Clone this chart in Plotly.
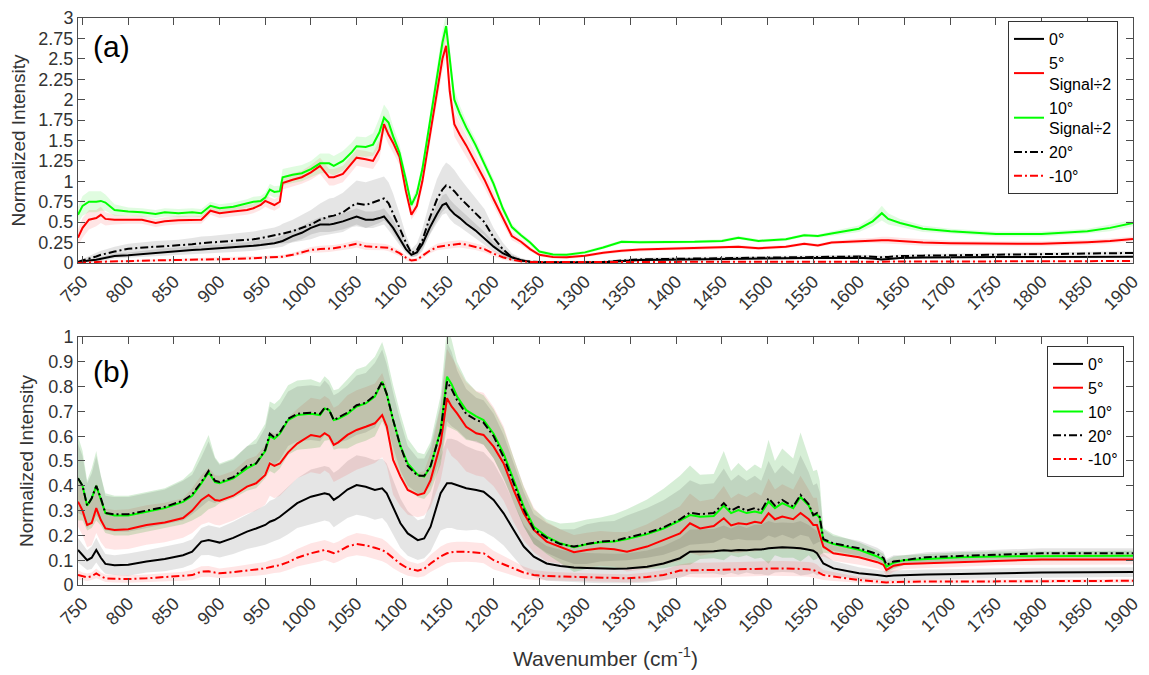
import plotly.graph_objects as go

# ---------------- Panel (a) ----------------
wn_a = [745, 750, 757, 765, 770, 775, 785,
        800, 815, 830, 840, 855, 870, 880, 890, 900, 915, 930, 937, 945, 950, 955, 960, 966, 969,
        980, 990, 1000, 1010, 1020, 1025, 1035, 1045, 1050, 1060, 1068, 1075, 1080, 1085, 1090,
        1097, 1104, 1110, 1116, 1122, 1130, 1138, 1144, 1148, 1152, 1157, 1163, 1170, 1180, 1190, 1200,
        1210, 1220, 1230, 1240, 1250, 1265, 1280, 1300, 1320, 1340, 1360, 1390, 1420, 1450, 1468, 1490,
        1520, 1540, 1555, 1570, 1600, 1615, 1625, 1632, 1645, 1670, 1700, 1750, 1800, 1850, 1875, 1900]

a_0 = [0.01, 0.02, 0.03, 0.04, 0.05, 0.06, 0.085,
       0.095, 0.11, 0.125, 0.135, 0.148, 0.16, 0.165, 0.172, 0.175, 0.19, 0.20, 0.21, 0.22, 0.227, 0.235, 0.243, 0.26, 0.27,
       0.33, 0.37, 0.43, 0.47, 0.47, 0.48, 0.51, 0.55, 0.57, 0.53, 0.53, 0.55, 0.57, 0.50, 0.43,
       0.30, 0.17, 0.10, 0.13, 0.23, 0.43, 0.60, 0.71, 0.73, 0.66, 0.60, 0.55, 0.48, 0.40, 0.30, 0.20,
       0.12, 0.07, 0.035, 0.016, 0.008, 0.005, 0.005, 0.005, 0.008, 0.025, 0.036, 0.04, 0.045, 0.05, 0.055, 0.056,
       0.058, 0.06, 0.06, 0.062, 0.064, 0.055, 0.044, 0.05, 0.06, 0.068, 0.072, 0.074, 0.075, 0.075, 0.075, 0.076]
a_5 = [0.31, 0.43, 0.53, 0.55, 0.59, 0.54, 0.53,
       0.53, 0.53, 0.49, 0.51, 0.525, 0.53, 0.53, 0.64, 0.61, 0.63, 0.65, 0.67, 0.71, 0.76, 0.73, 0.71, 0.75, 0.98,
       1.02, 1.05, 1.11, 1.19, 1.05, 1.05, 1.09, 1.22, 1.29, 1.27, 1.25, 1.39, 1.70, 1.57, 1.47,
       1.30, 0.88, 0.59, 0.70, 1.00, 1.55, 2.10, 2.50, 2.66, 2.10, 1.70, 1.57, 1.44, 1.23, 1.02, 0.78,
       0.55, 0.33, 0.26, 0.17, 0.10, 0.075, 0.07, 0.09, 0.125, 0.15, 0.165, 0.175, 0.18, 0.19, 0.20, 0.18,
       0.20, 0.235, 0.215, 0.25, 0.27, 0.275, 0.28, 0.28, 0.27, 0.25, 0.243, 0.235, 0.235, 0.255, 0.27, 0.295]
a_10 = [0.59, 0.70, 0.75, 0.75, 0.76, 0.74, 0.65,
        0.63, 0.62, 0.60, 0.62, 0.61, 0.62, 0.61, 0.70, 0.67, 0.69, 0.73, 0.75, 0.76, 0.80, 0.90, 0.87, 0.88, 1.05,
        1.08, 1.10, 1.15, 1.22, 1.22, 1.19, 1.25, 1.36, 1.43, 1.42, 1.45, 1.60, 1.78, 1.72, 1.55,
        1.35, 1.02, 0.71, 0.85, 1.15, 1.71, 2.30, 2.70, 2.90, 2.50, 2.00, 1.83, 1.66, 1.45, 1.22, 0.97,
        0.67, 0.44, 0.34, 0.25, 0.14, 0.105, 0.10, 0.13, 0.19, 0.26, 0.255, 0.255, 0.26, 0.27, 0.31, 0.27,
        0.29, 0.34, 0.33, 0.36, 0.42, 0.51, 0.61, 0.54, 0.49, 0.42, 0.39, 0.355, 0.355, 0.39, 0.43, 0.49]
a_20 = [0.015, 0.03, 0.06, 0.08, 0.10, 0.115, 0.14,
        0.175, 0.19, 0.20, 0.205, 0.215, 0.23, 0.243, 0.25, 0.255, 0.27, 0.285, 0.29, 0.305, 0.315, 0.325, 0.335, 0.35, 0.36,
        0.39, 0.43, 0.47, 0.53, 0.57, 0.58, 0.62, 0.70, 0.73, 0.71, 0.74, 0.77, 0.79, 0.73, 0.61,
        0.43, 0.25, 0.12, 0.16, 0.28, 0.55, 0.78, 0.90, 0.95, 0.93, 0.88, 0.80, 0.72, 0.61, 0.50, 0.31,
        0.17, 0.07, 0.03, 0.015, 0.01, 0.008, 0.008, 0.008, 0.012, 0.03, 0.044, 0.05, 0.055, 0.06, 0.065, 0.07,
        0.074, 0.076, 0.078, 0.078, 0.08, 0.078, 0.07, 0.075, 0.085, 0.09, 0.095, 0.105, 0.115, 0.12, 0.122, 0.123]
a_m10 = [0.0, 0.005, 0.01, 0.012, 0.015, 0.017, 0.02,
         0.024, 0.028, 0.032, 0.034, 0.036, 0.04, 0.042, 0.044, 0.045, 0.05, 0.055, 0.06, 0.065, 0.068, 0.07, 0.072, 0.075, 0.078,
         0.10, 0.13, 0.16, 0.17, 0.175, 0.18, 0.20, 0.22, 0.235, 0.205, 0.20, 0.195, 0.195, 0.185, 0.16,
         0.12, 0.065, 0.03, 0.04, 0.09, 0.15, 0.195, 0.21, 0.215, 0.22, 0.23, 0.235, 0.225, 0.20, 0.17, 0.115,
         0.07, 0.04, 0.02, 0.013, 0.012, 0.012, 0.012, 0.012, 0.012, 0.013, 0.014, 0.015, 0.015, 0.016, 0.016, 0.016,
         0.016, 0.016, 0.016, 0.016, 0.016, 0.016, 0.015, 0.016, 0.017, 0.018, 0.019, 0.02, 0.021, 0.022, 0.023, 0.024]

# standard deviations (shaded bands), panel (a)
sd_a_0 = [0.01, 0.015, 0.02, 0.02, 0.025, 0.03, 0.03,
          0.035, 0.04, 0.04, 0.045, 0.045, 0.05, 0.05, 0.05, 0.05, 0.055, 0.055, 0.06, 0.06, 0.06, 0.06, 0.06, 0.065, 0.07,
          0.07, 0.08, 0.08, 0.09, 0.09, 0.09, 0.10, 0.10, 0.10, 0.10, 0.10, 0.10, 0.10, 0.10, 0.10,
          0.08, 0.05, 0.03, 0.04, 0.06, 0.09, 0.11, 0.12, 0.12, 0.12, 0.12, 0.11, 0.10, 0.09, 0.08, 0.06,
          0.05, 0.03, 0.02, 0.01, 0.01, 0.01, 0.01, 0.01, 0.01, 0.012, 0.015, 0.015, 0.015, 0.015, 0.015, 0.015,
          0.015, 0.015, 0.015, 0.015, 0.015, 0.015, 0.015, 0.015, 0.015, 0.015, 0.015, 0.015, 0.015, 0.015, 0.015, 0.015]
sd_a_5 = [0.10, 0.12, 0.12, 0.10, 0.10, 0.08, 0.06,
          0.05, 0.05, 0.05, 0.05, 0.05, 0.05, 0.05, 0.05, 0.06, 0.06, 0.06, 0.06, 0.06, 0.07, 0.07, 0.07, 0.07, 0.08,
          0.08, 0.08, 0.09, 0.10, 0.10, 0.10, 0.10, 0.10, 0.10, 0.10, 0.10, 0.12, 0.12, 0.12, 0.12,
          0.10, 0.08, 0.06, 0.07, 0.09, 0.12, 0.14, 0.15, 0.15, 0.15, 0.15, 0.15, 0.14, 0.12, 0.10, 0.08,
          0.07, 0.05, 0.04, 0.03, 0.02, 0.02, 0.02, 0.02, 0.02, 0.02, 0.02, 0.02, 0.02, 0.02, 0.02, 0.02,
          0.02, 0.02, 0.02, 0.02, 0.03, 0.03, 0.04, 0.04, 0.04, 0.04, 0.03, 0.03, 0.03, 0.03, 0.03, 0.03]
sd_a_10 = [0.10, 0.12, 0.13, 0.13, 0.12, 0.10, 0.07,
           0.05, 0.05, 0.05, 0.05, 0.05, 0.05, 0.05, 0.05, 0.05, 0.05, 0.05, 0.06, 0.06, 0.06, 0.07, 0.07, 0.07, 0.10,
           0.10, 0.10, 0.10, 0.12, 0.12, 0.12, 0.12, 0.12, 0.12, 0.12, 0.14, 0.18, 0.16, 0.14, 0.12,
           0.10, 0.08, 0.06, 0.07, 0.08, 0.10, 0.12, 0.14, 0.15, 0.14, 0.12, 0.10, 0.08, 0.07, 0.06, 0.06,
           0.05, 0.04, 0.03, 0.03, 0.02, 0.02, 0.02, 0.02, 0.02, 0.02, 0.02, 0.02, 0.02, 0.02, 0.02, 0.02,
           0.02, 0.02, 0.02, 0.03, 0.04, 0.06, 0.09, 0.07, 0.05, 0.04, 0.03, 0.03, 0.03, 0.03, 0.04, 0.04]
sd_a_20 = [0.01, 0.02, 0.03, 0.04, 0.05, 0.05, 0.06,
           0.06, 0.065, 0.07, 0.07, 0.07, 0.075, 0.08, 0.08, 0.085, 0.09, 0.09, 0.095, 0.10, 0.10, 0.10, 0.10, 0.11, 0.12,
           0.14, 0.16, 0.18, 0.20, 0.22, 0.22, 0.24, 0.26, 0.28, 0.28, 0.28, 0.28, 0.27, 0.26, 0.24,
           0.18, 0.10, 0.05, 0.08, 0.14, 0.20, 0.25, 0.27, 0.28, 0.27, 0.26, 0.24, 0.22, 0.19, 0.16, 0.12,
           0.08, 0.05, 0.03, 0.02, 0.015, 0.015, 0.015, 0.015, 0.015, 0.02, 0.02, 0.02, 0.02, 0.02, 0.02, 0.02,
           0.02, 0.02, 0.02, 0.02, 0.02, 0.02, 0.02, 0.02, 0.02, 0.02, 0.02, 0.02, 0.02, 0.02, 0.02, 0.02]
sd_a_m10 = [0.005, 0.008, 0.01, 0.01, 0.01, 0.012, 0.012,
            0.012, 0.013, 0.014, 0.015, 0.015, 0.016, 0.017, 0.018, 0.018, 0.02, 0.02, 0.02, 0.02, 0.02, 0.02, 0.02, 0.02, 0.022,
            0.025, 0.03, 0.035, 0.04, 0.04, 0.04, 0.04, 0.045, 0.045, 0.045, 0.045, 0.04, 0.04, 0.04, 0.04,
            0.035, 0.03, 0.025, 0.025, 0.03, 0.035, 0.04, 0.045, 0.045, 0.045, 0.045, 0.045, 0.045, 0.04, 0.04, 0.035,
            0.03, 0.02, 0.015, 0.01, 0.008, 0.008, 0.008, 0.008, 0.008, 0.008, 0.008, 0.008, 0.008, 0.008, 0.008, 0.008,
            0.008, 0.008, 0.008, 0.008, 0.008, 0.008, 0.008, 0.008, 0.008, 0.008, 0.008, 0.008, 0.008, 0.008, 0.008, 0.008]

# ---------------- Panel (b) ----------------
wn_b = [745, 750, 755, 760, 765, 770, 775, 785,
        800, 820, 840, 860, 870, 880, 888, 895, 900, 915, 930, 940,
        950, 955, 960, 966, 975, 985, 1000, 1010, 1015, 1020, 1025, 1030, 1040, 1050, 1060, 1070, 1078,
        1083, 1090, 1098, 1106, 1117, 1124, 1131, 1142, 1149, 1154, 1160, 1170, 1181, 1189, 1200, 1211, 1222, 1233, 1244,
        1258, 1273, 1288, 1302, 1317, 1332, 1346, 1368, 1386, 1404, 1415, 1426, 1441, 1452, 1460, 1468, 1477, 1486, 1493,
        1501, 1508, 1516, 1528, 1536, 1545, 1550, 1554, 1557, 1561, 1572,
        1600, 1620, 1627, 1630, 1638, 1649, 1674, 1711, 1750, 1800, 1850, 1900]

b_0 = [0.141, 0.121, 0.10, 0.11, 0.141, 0.11, 0.085, 0.08,
       0.082, 0.095, 0.105, 0.12, 0.134, 0.175, 0.181, 0.175, 0.171, 0.19, 0.215, 0.228,
       0.242, 0.255, 0.262, 0.275, 0.30, 0.33, 0.356, 0.365, 0.37, 0.365, 0.343, 0.355, 0.385, 0.403, 0.396, 0.383, 0.39,
       0.37, 0.316, 0.249, 0.208, 0.181, 0.188, 0.235, 0.37, 0.41, 0.41, 0.403, 0.39, 0.383, 0.376, 0.343, 0.289, 0.222, 0.155, 0.114,
       0.087, 0.077, 0.071, 0.069, 0.067, 0.066, 0.067, 0.074, 0.087, 0.108, 0.134, 0.135, 0.136, 0.14, 0.138, 0.141, 0.14, 0.143, 0.143,
       0.148, 0.15, 0.152, 0.15, 0.148, 0.142, 0.138, 0.128, 0.11, 0.087, 0.067,
       0.047, 0.04, 0.036, 0.035, 0.038, 0.04, 0.042, 0.044, 0.047, 0.05, 0.051, 0.052]
b_5 = [0.336, 0.30, 0.242, 0.25, 0.31, 0.262, 0.228, 0.222,
       0.225, 0.242, 0.252, 0.27, 0.30, 0.343, 0.363, 0.343, 0.34, 0.36, 0.397, 0.41,
       0.444, 0.49, 0.48, 0.49, 0.535, 0.57, 0.605, 0.598, 0.612, 0.60, 0.565, 0.575, 0.605, 0.625, 0.638, 0.652, 0.685,
       0.64, 0.504, 0.437, 0.383, 0.363, 0.37, 0.423, 0.571, 0.753, 0.72, 0.692, 0.638, 0.612, 0.605, 0.558, 0.49, 0.383, 0.289, 0.222,
       0.175, 0.155, 0.132, 0.141, 0.148, 0.144, 0.134, 0.155, 0.181, 0.208, 0.249, 0.228, 0.238, 0.269, 0.24, 0.249, 0.245, 0.255, 0.25,
       0.289, 0.265, 0.276, 0.265, 0.29, 0.265, 0.242, 0.242, 0.20, 0.155, 0.128,
       0.112, 0.092, 0.081, 0.06, 0.078, 0.085, 0.088, 0.094, 0.10, 0.103, 0.103, 0.103]
b_10 = [0.43, 0.40, 0.32, 0.35, 0.40, 0.34, 0.29, 0.28,
        0.28, 0.295, 0.31, 0.335, 0.36, 0.41, 0.455, 0.415, 0.41, 0.43, 0.47, 0.49,
        0.54, 0.60, 0.59, 0.61, 0.665, 0.685, 0.69, 0.685, 0.712, 0.705, 0.665, 0.67, 0.69, 0.72, 0.732, 0.76, 0.82,
        0.77, 0.665, 0.56, 0.49, 0.444, 0.437, 0.477, 0.625, 0.84, 0.81, 0.76, 0.705, 0.68, 0.665, 0.61, 0.53, 0.423, 0.316, 0.235,
        0.195, 0.168, 0.152, 0.164, 0.172, 0.175, 0.185, 0.205, 0.228, 0.26, 0.282, 0.275, 0.278, 0.32, 0.29, 0.302, 0.29, 0.296, 0.29,
        0.336, 0.31, 0.33, 0.31, 0.355, 0.32, 0.28, 0.285, 0.27, 0.18, 0.165,
        0.142, 0.115, 0.10, 0.074, 0.09, 0.10, 0.105, 0.112, 0.115, 0.117, 0.118, 0.118]
b_20 = [0.43, 0.40, 0.32, 0.35, 0.40, 0.35, 0.29, 0.285,
        0.285, 0.30, 0.315, 0.34, 0.365, 0.415, 0.46, 0.42, 0.415, 0.435, 0.48, 0.49,
        0.545, 0.61, 0.595, 0.615, 0.67, 0.69, 0.695, 0.69, 0.715, 0.705, 0.665, 0.675, 0.695, 0.725, 0.735, 0.765, 0.82,
        0.77, 0.665, 0.56, 0.48, 0.44, 0.44, 0.48, 0.62, 0.82, 0.79, 0.745, 0.69, 0.665, 0.655, 0.60, 0.515, 0.41, 0.305, 0.225,
        0.19, 0.165, 0.155, 0.165, 0.175, 0.178, 0.19, 0.21, 0.232, 0.265, 0.292, 0.285, 0.29, 0.33, 0.30, 0.315, 0.30, 0.31, 0.30,
        0.35, 0.32, 0.343, 0.316, 0.363, 0.325, 0.282, 0.29, 0.275, 0.185, 0.168,
        0.148, 0.125, 0.108, 0.081, 0.095, 0.10, 0.112, 0.117, 0.122, 0.128, 0.128, 0.128]
b_m10 = [0.04, 0.035, 0.031, 0.035, 0.047, 0.035, 0.027, 0.025,
         0.024, 0.027, 0.031, 0.035, 0.04, 0.054, 0.055, 0.05, 0.047, 0.052, 0.058, 0.062,
         0.067, 0.072, 0.076, 0.08, 0.092, 0.11, 0.128, 0.135, 0.141, 0.135, 0.128, 0.135, 0.155, 0.165, 0.16, 0.15, 0.141,
         0.13, 0.108, 0.085, 0.067, 0.058, 0.065, 0.087, 0.115, 0.128, 0.132, 0.134, 0.134, 0.132, 0.128, 0.10, 0.082, 0.067, 0.05, 0.04,
         0.036, 0.034, 0.032, 0.031, 0.029, 0.028, 0.027, 0.032, 0.04, 0.058, 0.06, 0.06, 0.06, 0.062, 0.062, 0.063, 0.064, 0.065, 0.066,
         0.067, 0.067, 0.067, 0.066, 0.065, 0.063, 0.06, 0.055, 0.048, 0.04, 0.034,
         0.02, 0.014, 0.011, 0.01, 0.012, 0.013, 0.014, 0.014, 0.015, 0.016, 0.017, 0.017]

sd_b_0 = [0.05, 0.045, 0.04, 0.045, 0.05, 0.045, 0.04, 0.04,
          0.045, 0.045, 0.05, 0.05, 0.05, 0.055, 0.06, 0.06, 0.06, 0.065, 0.07, 0.075,
          0.08, 0.085, 0.085, 0.09, 0.095, 0.10, 0.11, 0.11, 0.11, 0.11, 0.11, 0.11, 0.115, 0.12, 0.12, 0.12, 0.12,
          0.12, 0.11, 0.10, 0.09, 0.08, 0.08, 0.10, 0.15, 0.18, 0.18, 0.18, 0.17, 0.16, 0.16, 0.15, 0.13, 0.11, 0.09, 0.08,
          0.07, 0.065, 0.06, 0.06, 0.06, 0.06, 0.06, 0.065, 0.07, 0.08, 0.09, 0.09, 0.09, 0.10, 0.09, 0.10, 0.09, 0.10, 0.10,
          0.11, 0.10, 0.10, 0.10, 0.11, 0.10, 0.09, 0.09, 0.07, 0.04, 0.03,
          0.025, 0.02, 0.02, 0.02, 0.02, 0.02, 0.02, 0.02, 0.02, 0.02, 0.02, 0.02]
sd_b_5 = [0.10, 0.10, 0.09, 0.09, 0.10, 0.09, 0.08, 0.08,
          0.08, 0.08, 0.08, 0.08, 0.09, 0.10, 0.11, 0.10, 0.10, 0.10, 0.11, 0.11,
          0.12, 0.13, 0.13, 0.13, 0.14, 0.14, 0.15, 0.15, 0.15, 0.15, 0.15, 0.15, 0.16, 0.16, 0.16, 0.16, 0.17,
          0.16, 0.14, 0.12, 0.10, 0.09, 0.09, 0.11, 0.15, 0.20, 0.20, 0.19, 0.18, 0.17, 0.17, 0.16, 0.15, 0.13, 0.11, 0.09,
          0.08, 0.07, 0.07, 0.07, 0.07, 0.07, 0.08, 0.09, 0.10, 0.11, 0.12, 0.11, 0.11, 0.13, 0.11, 0.12, 0.11, 0.12, 0.11,
          0.14, 0.12, 0.13, 0.12, 0.15, 0.12, 0.11, 0.11, 0.09, 0.04, 0.03,
          0.03, 0.025, 0.025, 0.025, 0.025, 0.02, 0.02, 0.02, 0.02, 0.02, 0.02, 0.02]
sd_b_10 = [0.17, 0.14, 0.10, 0.12, 0.14, 0.10, 0.08, 0.08,
           0.08, 0.08, 0.08, 0.09, 0.10, 0.13, 0.15, 0.10, 0.08, 0.08, 0.09, 0.10,
           0.11, 0.14, 0.14, 0.14, 0.14, 0.14, 0.14, 0.13, 0.13, 0.12, 0.12, 0.12, 0.14, 0.15, 0.15, 0.16, 0.16,
           0.15, 0.14, 0.13, 0.10, 0.09, 0.09, 0.10, 0.14, 0.20, 0.18, 0.14, 0.12, 0.10, 0.10, 0.10, 0.10, 0.09, 0.08, 0.07,
           0.07, 0.08, 0.10, 0.10, 0.10, 0.11, 0.12, 0.14, 0.16, 0.18, 0.20, 0.17, 0.17, 0.22, 0.17, 0.19, 0.17, 0.19, 0.18,
           0.25, 0.19, 0.22, 0.20, 0.26, 0.20, 0.18, 0.18, 0.15, 0.05, 0.04,
           0.03, 0.025, 0.025, 0.025, 0.025, 0.02, 0.02, 0.02, 0.02, 0.02, 0.02, 0.02]
sd_b_20 = [0.14, 0.12, 0.09, 0.10, 0.12, 0.09, 0.07, 0.07,
           0.07, 0.07, 0.07, 0.08, 0.08, 0.10, 0.12, 0.09, 0.07, 0.07, 0.08, 0.08,
           0.09, 0.11, 0.11, 0.11, 0.11, 0.11, 0.11, 0.11, 0.11, 0.10, 0.10, 0.10, 0.11, 0.12, 0.12, 0.13, 0.13,
           0.12, 0.11, 0.10, 0.08, 0.07, 0.07, 0.08, 0.11, 0.16, 0.15, 0.12, 0.10, 0.09, 0.09, 0.09, 0.09, 0.08, 0.07, 0.06,
           0.06, 0.06, 0.07, 0.08, 0.08, 0.08, 0.09, 0.10, 0.11, 0.12, 0.13, 0.12, 0.12, 0.14, 0.12, 0.13, 0.12, 0.13, 0.12,
           0.15, 0.13, 0.14, 0.13, 0.16, 0.13, 0.12, 0.12, 0.10, 0.04, 0.03,
           0.03, 0.025, 0.025, 0.025, 0.025, 0.02, 0.02, 0.02, 0.02, 0.02, 0.02, 0.02]
sd_b_m10 = [0.02, 0.015, 0.015, 0.015, 0.02, 0.015, 0.015, 0.015,
            0.015, 0.015, 0.017, 0.018, 0.02, 0.022, 0.022, 0.02, 0.02, 0.022, 0.024, 0.025,
            0.026, 0.028, 0.028, 0.03, 0.032, 0.035, 0.04, 0.04, 0.04, 0.04, 0.04, 0.04, 0.042, 0.045, 0.045, 0.045, 0.045,
            0.043, 0.04, 0.035, 0.03, 0.028, 0.03, 0.035, 0.04, 0.04, 0.04, 0.04, 0.04, 0.04, 0.04, 0.038, 0.035, 0.03, 0.025, 0.02,
            0.018, 0.017, 0.016, 0.016, 0.016, 0.016, 0.016, 0.018, 0.02, 0.025, 0.03, 0.03, 0.03, 0.03, 0.03, 0.03, 0.03, 0.03, 0.03,
            0.03, 0.03, 0.03, 0.03, 0.03, 0.03, 0.03, 0.028, 0.025, 0.02, 0.018,
            0.012, 0.01, 0.01, 0.008, 0.008, 0.008, 0.008, 0.008, 0.008, 0.008, 0.008, 0.008]

# ticks
x_ticks = list(range(750, 1901, 50))
y_ticks_a = [0, 0.25, 0.5, 0.75, 1, 1.25, 1.5, 1.75, 2, 2.25, 2.5, 2.75, 3]
y_text_a = ["0", "0.25", "0.5", "0.75", "1", "1.25", "1.5", "1.75", "2", "2.25", "2.5", "2.75", "3"]
y_ticks_b = [0, 0.1, 0.2, 0.3, 0.4, 0.5, 0.6, 0.7, 0.8, 0.9, 1]
y_text_b = ["0", "0.1", "0.2", "0.3", "0.4", "0.5", "0.6", "0.7", "0.8", "0.9", "1"]

names_a = ["0°", "5°<br>Signal÷2", "10°<br>Signal÷2", "20°", "-10°"]
names_b = ["0°", "5°", "10°", "20°", "-10°"]

for nm, arr, ref in [("a_0", a_0, wn_a), ("a_5", a_5, wn_a), ("a_10", a_10, wn_a), ("a_20", a_20, wn_a),
                     ("a_m10", a_m10, wn_a), ("sd_a_0", sd_a_0, wn_a), ("sd_a_5", sd_a_5, wn_a),
                     ("sd_a_10", sd_a_10, wn_a), ("sd_a_20", sd_a_20, wn_a), ("sd_a_m10", sd_a_m10, wn_a),
                     ("b_0", b_0, wn_b), ("b_5", b_5, wn_b), ("b_10", b_10, wn_b), ("b_20", b_20, wn_b),
                     ("b_m10", b_m10, wn_b), ("sd_b_0", sd_b_0, wn_b), ("sd_b_5", sd_b_5, wn_b),
                     ("sd_b_10", sd_b_10, wn_b), ("sd_b_20", sd_b_20, wn_b), ("sd_b_m10", sd_b_m10, wn_b)]:
    if len(arr) != len(ref):
        raise ValueError(f"{nm}: {len(arr)} vs {len(ref)}")

DASHDOT = "8px,3px,2px,3px"
styles_a = [
    dict(color="#000000", dash="solid", fill="rgba(0,0,0,0.10)"),
    dict(color="#ff0000", dash="solid", fill="rgba(255,0,0,0.10)"),
    dict(color="#00ff00", dash="solid", fill="rgba(0,230,0,0.12)"),
    dict(color="#000000", dash=DASHDOT, fill="rgba(0,0,0,0.10)"),
    dict(color="#ff0000", dash=DASHDOT, fill="rgba(255,0,0,0.10)"),
]
styles_b = [
    dict(color="#000000", dash="solid", fill="rgba(0,0,0,0.10)"),
    dict(color="#ff0000", dash="solid", fill="rgba(255,0,0,0.10)"),
    dict(color="#00ff00", dash="solid", fill="rgba(0,150,0,0.16)"),
    dict(color="#000000", dash=DASHDOT, fill="rgba(0,0,0,0.10)"),
    dict(color="#ff0000", dash=DASHDOT, fill="rgba(255,0,0,0.10)"),
]

fig = go.Figure()


def add_panel(wn, means, sds, names, styles, xa, ya, legend):
    for m, s, st in zip(means, sds, styles):
        up = [a + b for a, b in zip(m, s)]
        lo = [a - b for a, b in zip(m, s)]
        fig.add_trace(go.Scatter(x=wn + wn[::-1], y=up + lo[::-1], fill="toself",
                                 fillcolor=st["fill"], line=dict(width=0), mode="lines",
                                 hoverinfo="skip", showlegend=False, xaxis=xa, yaxis=ya))
    for m, nm, st in zip(means, names, styles):
        fig.add_trace(go.Scatter(x=wn, y=m, mode="lines", name=nm,
                                 line=dict(color=st["color"], width=2, dash=st["dash"]),
                                 xaxis=xa, yaxis=ya, legend=legend))


add_panel(wn_a, [a_0, a_5, a_10, a_20, a_m10], [sd_a_0, sd_a_5, sd_a_10, sd_a_20, sd_a_m10],
          names_a, styles_a, "x", "y", "legend")
add_panel(wn_b, [b_0, b_5, b_10, b_20, b_m10], [sd_b_0, sd_b_5, sd_b_10, sd_b_20, sd_b_m10],
          names_b, styles_b, "x2", "y2", "legend2")

font_family = "Liberation Sans, Arial, Helvetica, sans-serif"
axcol = "#4d4d4d"
txtcol = "#333333"

xcommon = dict(range=[745, 1900], tickvals=x_ticks, ticktext=[str(v) for v in x_ticks],
               tickangle=-45, ticks="inside", ticklen=7, tickcolor=axcol, showline=True,
               linecolor=axcol, linewidth=1, mirror="ticks", showgrid=False, zeroline=False,
               automargin=False, ticklabeloverflow="allow",
               tickfont=dict(size=18, color=txtcol, family=font_family))
ycommon = dict(ticks="inside", ticklen=7, tickcolor=axcol, showline=True, linecolor=axcol,
               linewidth=1, mirror="ticks", showgrid=False, zeroline=False, automargin=False,
               ticklabeloverflow="allow",
               tickfont=dict(size=18, color=txtcol, family=font_family),
               title=dict(text="Normalized Intensity", font=dict(size=19, color=txtcol, family=font_family),
                          standoff=9))

fig.update_layout(
    width=1141, height=667,
    margin=dict(l=70, r=16, t=10, b=90),
    paper_bgcolor="white", plot_bgcolor="white",
    font=dict(family=font_family, color=txtcol),
    xaxis=dict(**xcommon, anchor="y", domain=[0, 1]),
    yaxis=dict(**ycommon, anchor="x", domain=[0.5679, 1], range=[0, 3], tickvals=y_ticks_a, ticktext=y_text_a),
    xaxis2=dict(**xcommon, anchor="y2", domain=[0, 1],
                title=dict(text="Wavenumber (cm<sup>-1</sup>)", font=dict(size=21, color=txtcol, family=font_family),
                           standoff=16)),
    yaxis2=dict(**ycommon, anchor="x2", domain=[0, 0.4374], range=[0, 1], tickvals=y_ticks_b, ticktext=y_text_b),
    legend=dict(x=0.8815, y=0.9947, xanchor="left", yanchor="top", bgcolor="white",
                bordercolor="#333333", borderwidth=1, font=dict(size=16, color="#000000", family=font_family),
                tracegroupgap=0, itemwidth=30),
    legend2=dict(x=0.9185, y=0.4215, xanchor="left", yanchor="top", bgcolor="white",
                 bordercolor="#333333", borderwidth=1, font=dict(size=16, color="#000000", family=font_family),
                 tracegroupgap=0, itemwidth=30),
    showlegend=True,
    annotations=[
        dict(text="(a)", x=0.012, y=0.9489, xref="paper", yref="paper", xanchor="left", yanchor="middle",
             showarrow=False, font=dict(size=30, color="#000000", family=font_family)),
        dict(text="(b)", x=0.012, y=0.3774, xref="paper", yref="paper", xanchor="left", yanchor="middle",
             showarrow=False, font=dict(size=30, color="#000000", family=font_family)),
    ],
)

fig.write_html("out.html")
